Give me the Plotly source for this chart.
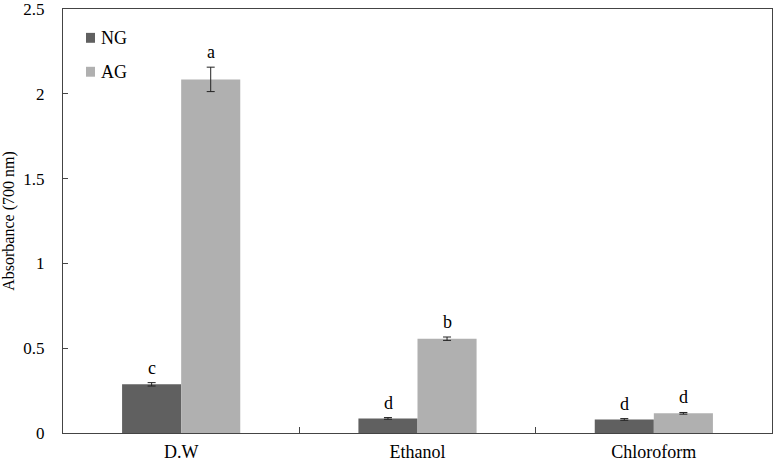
import plotly.graph_objects as go

categories = ["D.W", "Ethanol", "Chloroform"]
ng_values = [0.287, 0.086, 0.080]
ng_errors = [0.010, 0.005, 0.005]
ag_values = [2.085, 0.556, 0.116]
ag_errors = [0.072, 0.010, 0.005]
ng_letters = ["c", "d", "d"]
ag_letters = ["a", "b", "d"]
y_ticks = [0, 0.5, 1, 1.5, 2, 2.5]
y_tick_labels = ["0", "0.5", "1", "1.5", "2", "2.5"]
series_names = ["NG", "AG"]
series_colors = ["#606060", "#b0b0b0"]

FONT = "Liberation Serif, Times New Roman, serif"

fig = go.Figure()
for name, vals, errs, col in [(series_names[0], ng_values, ng_errors, series_colors[0]),
                              (series_names[1], ag_values, ag_errors, series_colors[1])]:
    fig.add_trace(go.Bar(
        name=name, x=categories, y=vals, showlegend=False,
        marker=dict(color=col, line=dict(width=0)),
        error_y=dict(type="data", array=errs, color="#222222", thickness=1, width=4),
    ))

annotations = []
for i, c in enumerate(categories):
    annotations.append(dict(
        x=c, y=ng_values[i] + ng_errors[i], xref="x", yref="y", text=ng_letters[i],
        showarrow=False, yanchor="bottom", yshift=3, xshift=-29.5,
        font=dict(family=FONT, size=18, color="black")))
    annotations.append(dict(
        x=c, y=ag_values[i] + ag_errors[i], xref="x", yref="y", text=ag_letters[i],
        showarrow=False, yanchor="bottom", yshift=3, xshift=29.5,
        font=dict(family=FONT, size=18, color="black")))

# manual legend (swatches + labels)
shapes = []
legend_y = [0.932, 0.852]
for name, col, yc in zip(series_names, series_colors, legend_y):
    shapes.append(dict(type="rect", xref="paper", yref="paper",
                       x0=0.0324, x1=0.0451, y0=yc - 0.0117, y1=yc + 0.0117,
                       fillcolor=col, line=dict(width=0)))
    annotations.append(dict(x=0.0508, y=yc, xref="paper", yref="paper", text=name,
                            showarrow=False, xanchor="left", yanchor="middle",
                            font=dict(family=FONT, size=18, color="black")))

fig.update_layout(
    width=774, height=462,
    margin=dict(l=63, r=2, t=9, b=29),
    paper_bgcolor="white", plot_bgcolor="white",
    barmode="group", bargap=0.5, bargroupgap=0,
    font=dict(family=FONT, size=17, color="black"),
    annotations=annotations, shapes=shapes,
    xaxis=dict(
        automargin=False,
        showline=True, linecolor="#444444", linewidth=1, mirror=True,
        ticks="inside", ticklen=6, tickcolor="#444444", tickson="boundaries",
        tickfont=dict(family=FONT, size=18), ticklabelstandoff=2,
        showgrid=False, zeroline=False,
    ),
    yaxis=dict(
        automargin=False,
        range=[0, 2.5], tickvals=y_ticks, ticktext=y_tick_labels,
        showline=True, linecolor="#444444", linewidth=1, mirror=True,
        ticks="inside", ticklen=5, tickcolor="#444444",
        tickfont=dict(family=FONT, size=17), ticklabelstandoff=14,
        ticklabeloverflow="allow",
        showgrid=False, zeroline=False,
        title=dict(text="Absorbance (700 nm)", font=dict(family=FONT, size=16), standoff=6),
    ),
)

fig.write_html("out.html", config={"displayModeBar": False},
               post_script="document.body.style.margin='0';document.body.style.overflow='hidden';")
